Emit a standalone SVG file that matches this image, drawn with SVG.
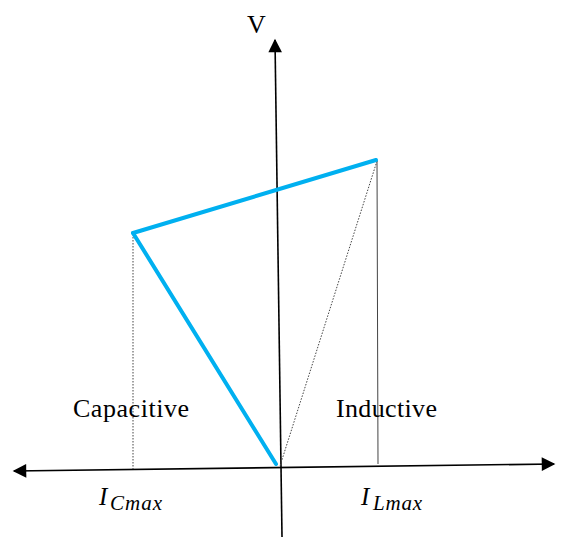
<svg xmlns="http://www.w3.org/2000/svg" width="565" height="537" viewBox="0 0 565 537">
<style>
.ax{stroke:#000;stroke-width:1.6;fill:none}
.blue{stroke:#00B0F0;stroke-width:4;fill:none;stroke-linecap:round}
.thin{stroke:#444;stroke-width:1;fill:none}
.dot{stroke:#444;stroke-width:1;fill:none;stroke-dasharray:1.5 1.5}
.t{font-family:"Liberation Serif",serif;font-size:26px;fill:#000}
.m{font-family:"Liberation Serif",serif;font-style:italic;fill:#000}
</style>
<defs>
<marker id="ah" viewBox="0 0 10 10" refX="9" refY="5" markerWidth="10" markerHeight="8.5" orient="auto-start-reverse" markerUnits="strokeWidth">
<path d="M0,0 L10,5 L0,10 Z" fill="#000"/>
</marker>
</defs>
<g id="connectors">
<line id="x-axis" class="ax" x1="14" y1="471" x2="554" y2="464" marker-start="url(#ah)" marker-end="url(#ah)"/>
<line id="y-axis" class="ax" x1="282" y1="537" x2="275" y2="40" marker-end="url(#ah)"/>
<line class="dot" x1="133" y1="234" x2="133" y2="469"/>
<line class="thin" x1="377" y1="160" x2="378" y2="464"/>
<line class="dot" x1="377" y1="161" x2="280" y2="466"/>
<line class="blue" x1="133" y1="233" x2="376" y2="160"/>
<line class="blue" x1="133" y1="233" x2="276" y2="464"/>
</g>
<g id="label-v"><text class="t" x="247" y="33" font-size="28">V</text></g>
<g id="label-capacitive"><text class="t" x="73" y="417" textLength="116">Capacitive</text></g>
<g id="label-inductive"><text class="t" x="336" y="417" textLength="101">Inductive</text></g>
<g id="label-icmax"><text class="m" x="99" y="505" font-size="25">I</text><text class="m" x="110" y="510" font-size="21" textLength="52">Cmax</text></g>
<g id="label-ilmax"><text class="m" x="361" y="505" font-size="25">I</text><text class="m" x="373" y="510" font-size="21" textLength="49">Lmax</text></g>
</svg>
